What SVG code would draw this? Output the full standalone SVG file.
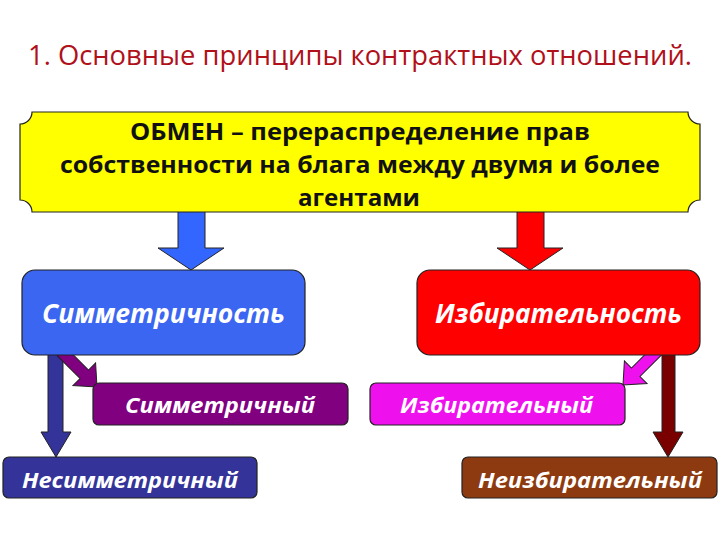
<svg xmlns="http://www.w3.org/2000/svg" width="720" height="540" viewBox="0 0 720 540">
<style>
.title{font-family:"Open Sans","Liberation Sans",sans-serif;font-size:27px;fill:#b0101a}
.main{font-family:"Open Sans","Liberation Sans",sans-serif;font-size:24px;font-weight:bold;fill:#111}
.big{font-family:"Open Sans","Liberation Sans",sans-serif;font-size:26px;font-weight:bold;font-style:italic;fill:#fff}
.small{font-family:"Open Sans","Liberation Sans",sans-serif;font-size:22px;font-weight:bold;font-style:italic;fill:#fff}
.box{stroke:#222;stroke-width:1.2}
.arr{stroke:#222;stroke-width:1}
</style>
<rect width="720" height="540" fill="#fff"/>
<text class="title" x="28" y="65" textLength="664" lengthAdjust="spacingAndGlyphs">1. Основные принципы контрактных отношений.</text>

<g id="connectors">
  <polygon class="arr" fill="#3366ff" points="178,210 205,210 205,248 224,248 191,270 158,248 178,248"/>
  <polygon class="arr" fill="#ff0000" points="517,210 544,210 544,248 563,248 530,270 497,248 517,248"/>
  <polygon class="arr" fill="#333399" points="48,350 63,350 63,432 71,432 56,457 41,432 48,432"/>
  <polygon class="arr" fill="#7a0000" points="662,350 675,350 675,432 683,432 668,457 653,432 662,432"/>
  <path class="arr" fill="#800080" transform="translate(97,387) rotate(45)" d="M-50,-6 L-18,-6 L-18,-16 L0,0 L-18,16 L-18,6 L-50,6 Z"/>
  <path class="arr" fill="#ee11ee" transform="translate(623,385) rotate(135)" d="M-50,-6 L-18,-6 L-18,-16 L0,0 L-18,16 L-18,6 L-50,6 Z"/>
</g>

<g id="exchange">
  <path class="box" fill="#ffff00" d="M32,112 H688 A12,12 0 0 0 700,124 V200 A12,12 0 0 0 688,212 H32 A12,12 0 0 0 20,200 V124 A12,12 0 0 0 32,112 Z"/>
  <text class="main" x="130" y="140" textLength="460" lengthAdjust="spacingAndGlyphs">ОБМЕН – перераспределение прав</text>
  <text class="main" x="60" y="173" textLength="600" lengthAdjust="spacingAndGlyphs">собственности на блага между двумя и более</text>
  <text class="main" x="298" y="206" textLength="122" lengthAdjust="spacingAndGlyphs">агентами</text>
</g>

<g id="symmetry">
  <rect class="box" fill="#3a66f2" x="22" y="270" width="283" height="85" rx="13"/>
  <text class="big" x="42" y="323" textLength="243" lengthAdjust="spacingAndGlyphs">Симметричность</text>
</g>
<g id="selectivity">
  <rect class="box" fill="#ff0000" x="417" y="270" width="283" height="85" rx="13"/>
  <text class="big" x="435" y="323" textLength="247" lengthAdjust="spacingAndGlyphs">Избирательность</text>
</g>
<g id="symmetric">
  <rect class="box" fill="#800080" x="93" y="383" width="255" height="42" rx="6"/>
  <text class="small" x="125" y="413" textLength="190" lengthAdjust="spacingAndGlyphs">Симметричный</text>
</g>
<g id="asymmetric">
  <rect class="box" fill="#333399" x="3" y="457" width="254" height="41" rx="6"/>
  <text class="small" x="22" y="488" textLength="216" lengthAdjust="spacingAndGlyphs">Несимметричный</text>
</g>
<g id="selective">
  <rect class="box" fill="#ee11ee" x="370" y="383" width="255" height="42" rx="6"/>
  <text class="small" x="400" y="413" textLength="193" lengthAdjust="spacingAndGlyphs">Избирательный</text>
</g>
<g id="nonselective">
  <rect class="box" fill="#8e3a10" x="462" y="457" width="255" height="41" rx="6"/>
  <text class="small" x="478" y="488" textLength="224" lengthAdjust="spacingAndGlyphs">Неизбирательный</text>
</g>
</svg>
